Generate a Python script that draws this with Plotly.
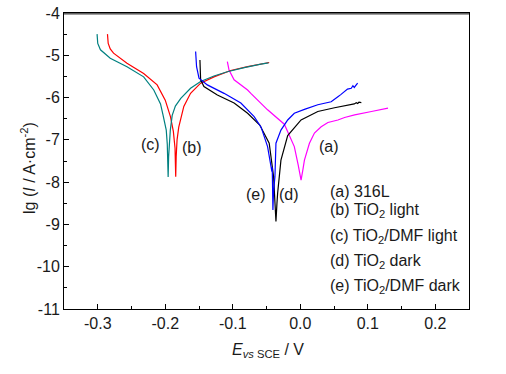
import plotly.graph_objects as go

# (a) 316L - magenta
e_a = [-0.108, -0.1065, -0.1055, -0.098, -0.078, -0.0732, -0.0484, -0.0236, -0.0088, -0.003, 0.0012,
       0.004, 0.0062, 0.0136, 0.021, 0.031, 0.041, 0.0558, 0.0657, 0.0806, 0.0955, 0.1055, 0.130]
lg_a = [-5.15, -5.28, -5.35, -5.58, -5.82, -5.90, -6.29, -6.63, -7.16, -7.6, -7.95,
        -7.7, -7.48, -7.08, -6.84, -6.69, -6.59, -6.53, -6.47, -6.41, -6.37, -6.33, -6.25]

# (b) TiO2 light - red
e_b = [-0.2856, -0.2845, -0.2815, -0.2766, -0.2567, -0.232, -0.212, -0.200, -0.1923, -0.188, -0.1855, -0.1845,
       -0.1838, -0.1825, -0.180, -0.1725, -0.1625, -0.1476, -0.1278, -0.103, -0.078, -0.046]
lg_b = [-4.50, -4.72, -4.85, -4.95, -5.19, -5.43, -5.70, -6.06, -6.45, -6.80, -7.20, -7.87,
        -7.40, -7.00, -6.70, -6.21, -5.90, -5.66, -5.51, -5.36, -5.27, -5.17]

# (c) TiO2/DMF light - teal
e_c = [-0.301, -0.300, -0.296, -0.2815, -0.2567, -0.232, -0.217, -0.207, -0.2035, -0.1985, -0.197, -0.1962, -0.1957,
       -0.195, -0.194, -0.1925, -0.1897, -0.185, -0.177, -0.1625, -0.1476, -0.1278, -0.108, -0.083, -0.0583, -0.047]
lg_c = [-4.50, -4.72, -4.87, -5.07, -5.27, -5.51, -5.82, -6.15, -6.40, -6.77, -7.10, -7.50, -7.88,
        -7.40, -7.00, -6.77, -6.42, -6.20, -6.02, -5.78, -5.62, -5.49, -5.39, -5.29, -5.21, -5.18]

# (d) TiO2 dark - black
e_d = [-0.1486, -0.148, -0.1476, -0.1427, -0.1228, -0.098, -0.078, -0.060, -0.046, -0.0395, -0.037, -0.036,
       -0.0345, -0.0335, -0.0286, -0.0186, 0.0012, 0.026, 0.0508, 0.0756, 0.080, 0.083, 0.085, 0.087, 0.0905]
lg_d = [-5.11, -5.40, -5.58, -5.74, -5.94, -6.13, -6.37, -6.65, -7.08, -7.87, -8.50, -8.93,
        -8.50, -8.26, -7.48, -6.90, -6.53, -6.33, -6.24, -6.15, -6.15, -6.12, -6.14, -6.11, -6.12]

# (e) TiO2/DMF dark - blue
e_e = [-0.155, -0.1545, -0.1536, -0.150, -0.1377, -0.1129, -0.088, -0.0683, -0.058, -0.0484, -0.0435, -0.042,
       -0.0415, -0.041, -0.0405,
       -0.0395, -0.0375, -0.036, -0.0286, -0.0186, -0.0088, 0.0062, 0.026, 0.0458, 0.050, 0.0558, 0.060,
       0.0657, 0.070, 0.0756, 0.078, 0.080, 0.083, 0.085]
lg_e = [-4.91, -5.10, -5.27, -5.54, -5.70, -5.90, -6.13, -6.45, -6.70, -7.16, -7.55, -7.75,
        -7.65, -8.00, -8.66,
        -8.20, -7.87, -7.08, -6.77, -6.53, -6.37, -6.28, -6.17, -6.10, -6.04, -5.98, -5.93,
        -5.86, -5.80, -5.78, -5.72, -5.76, -5.68, -5.66]

series = [
    (e_a, lg_a, "#FF00FF"),
    (e_b, lg_b, "#FF0000"),
    (e_c, lg_c, "#008080"),
    (e_d, lg_d, "#000000"),
    (e_e, lg_e, "#0000FF"),
]

x_ticks = [-0.3, -0.2, -0.1, 0.0, 0.1, 0.2]
x_ticktext = ["-0.3", "-0.2", "-0.1", "0.0", "0.1", "0.2"]
y_ticks = [-11, -10, -9, -8, -7, -6, -5, -4]
y_ticktext = ["-11", "-10", "-9", "-8", "-7", "-6", "-5", "-4"]

curve_labels = ["(a)", "(b)", "(c)", "(d)", "(e)"]
curve_label_x = [0.043, -0.161, -0.222, -0.016, -0.066]
curve_label_y = [-7.16, -7.19, -7.12, -8.30, -8.30]

legend_lines = ["(a) 316L", "(b) TiO<sub>2</sub> light", "(c) TiO<sub>2</sub>/DMF light",
                "(d) TiO<sub>2</sub> dark", "(e) TiO<sub>2</sub>/DMF dark"]
legend_py = [191, 211, 236, 261, 286]

FONT = "Arial, Liberation Sans, sans-serif"
FS = 16
TXT = "#1a1a1a"

W, H = 506, 374
L, T = 64, 13
pw, ph = 405, 296
R = W - L - pw
B = H - T - ph


def px_to_paper_x(px):
    return (px - L) / pw


def py_to_paper_y(py):
    return (T + ph - py) / ph


fig = go.Figure()
for ex, ly, col in series:
    fig.add_trace(go.Scatter(x=ex, y=ly, mode="lines", line=dict(color=col, width=1.2), showlegend=False))

annotations = []
for t, x, y in zip(curve_labels, curve_label_x, curve_label_y):
    annotations.append(dict(x=x, y=y, xref="x", yref="y", text=t, showarrow=False,
                            font=dict(size=FS, family=FONT, color=TXT)))
for t, py in zip(legend_lines, legend_py):
    annotations.append(dict(x=px_to_paper_x(328), y=py_to_paper_y(py), xref="paper", yref="paper",
                            text=t, showarrow=False, xanchor="left", yanchor="middle",
                            font=dict(size=FS, family=FONT, color=TXT)))
annotations.append(dict(x=px_to_paper_x(28), y=py_to_paper_y(168), xref="paper", yref="paper",
                        text="lg (<i>I</i> / A·cm<sup>-2</sup>)", textangle=-90, showarrow=False,
                        xanchor="center", yanchor="middle",
                        font=dict(size=FS, family=FONT, color=TXT)))
annotations.append(dict(x=px_to_paper_x(268), y=py_to_paper_y(350), xref="paper", yref="paper",
                        text="<i>E</i><sub><i>vs</i> SCE</sub> / V", showarrow=False,
                        xanchor="center", yanchor="middle",
                        font=dict(size=FS, family=FONT, color=TXT)))

axis_common = dict(showline=True, linecolor="black", linewidth=1, mirror=True,
                   ticks="inside", ticklen=5, tickwidth=1, tickcolor="black",
                   showgrid=False, zeroline=False, ticklabeloverflow="allow",
                   tickfont=dict(size=FS, family=FONT, color=TXT))

fig.update_layout(
    width=W, height=H,
    margin=dict(l=L, r=R, t=T, b=B, autoexpand=False),
    paper_bgcolor="white", plot_bgcolor="white",
    xaxis=dict(range=[-0.35, 0.25], tickvals=x_ticks, ticktext=x_ticktext,
               minor=dict(dtick=0.05, tick0=-0.35, ticks="inside", ticklen=3, tickcolor="black", showgrid=False),
               **axis_common),
    yaxis=dict(range=[-11, -4], tickvals=y_ticks, ticktext=y_ticktext,
               minor=dict(dtick=0.5, tick0=-11, ticks="inside", ticklen=3, tickcolor="black", showgrid=False),
               **axis_common),
    annotations=annotations,
    shapes=[dict(type="line", xref="paper", yref="paper", x0=0, x1=1, y0=0.997, y1=0.997,
                 line=dict(color="black", width=1), layer="above")],
)

fig.write_html("out.html", config={"displayModeBar": False},
               post_script="document.body.style.margin='0px';document.body.style.overflow='hidden';")
